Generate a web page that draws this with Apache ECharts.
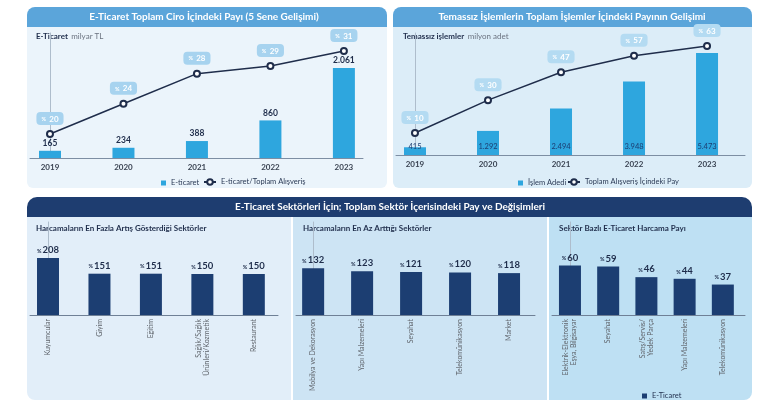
<!DOCTYPE html>
<html><head><meta charset="utf-8">
<script src="https://cdn.jsdelivr.net/npm/echarts@6/dist/echarts.min.js"></script>
<style>html,body{margin:0;padding:0;background:#fff}#c{width:770px;height:413px}</style>
</head><body><div id="c"></div>
<script>
// ---- data ----
const years = ['2019','2020','2021','2022','2023'];
const eticaretCiro = [165, 234, 388, 860, 2061];          // milyar TL
const eticaretPay = [20, 24, 28, 29, 31];                 // %
const temassizAdet = [415, 1292, 2494, 3948, 5473];       // milyon adet
const temassizPay = [10, 30, 47, 57, 63];                 // %
const enFazlaSektor = ['Kuyumcular', 'Giyim', 'Eğitim', 'Sağlık/Sağlık\nÜrünleri/Kozmetik', 'Restaurant'];
const enFazlaArtis = [208, 151, 151, 150, 150];
const enAzSektor = ['Mobilya ve Dekorasyon', 'Yapı Malzemeleri', 'Seyahat', 'Telekomünikasyon', 'Market'];
const enAzArtis = [132, 123, 121, 120, 118];
const payiSektor = ['Elektrik-Elektronik\nEşya, Bilgisayar', 'Seyahat', 'Satış/Servis/\nYedek Parça', 'Yapı Malzemeleri', 'Telekomünikasyon'];
const payi = [60, 59, 46, 44, 37];

const FONT = 'Lato, "Open Sans", sans-serif';
const NAVY = '#1c3e72';
const DARK = '#1f2d4b';
const BLUE = '#2ea6de';
const fmtTR = n => String(n).replace(/\B(?=(\d{3})+(?!\d))/g, '.');
const pairs = arr => arr.map((v, i) => [i, v]);
const idx = [0, 1, 2, 3, 4];

function xAxisFor(grid, min, max, labels, bottom) {
  return {
    gridIndex: grid, type: 'value', min: min, max: max,
    axisLine: { show: true, onZero: false, lineStyle: { color: bottom ? '#6f8096' : '#7d8ea3', width: 1 } },
    axisTick: { show: false }, splitLine: { show: false },
    axisLabel: bottom ? {
      customValues: idx, formatter: v => labels[v], rotate: 90, margin: 4,
      fontSize: 7, lineHeight: 8, color: '#5f646b', fontFamily: FONT
    } : {
      customValues: idx, formatter: v => labels[v], margin: 5,
      fontSize: 8, fontWeight: 'bold', color: '#3a4352', fontFamily: FONT
    }
  };
}
function yAxisFor(grid, max, show, min) {
  return {
    gridIndex: grid, type: 'value', min: min || 0, max: max, show: show,
    axisLine: { show: true, lineStyle: { color: '#aebdcc', width: 1 } },
    axisTick: { show: false }, axisLabel: { show: false }, splitLine: { show: false }
  };
}
function pctLabel(bg) {
  return {
    show: true, position: 'top', distance: 5,
    formatter: p => '{a|%} {b|' + p.value[1] + '}',
    backgroundColor: bg, borderRadius: 4, padding: [1, 5, 0, 5],
    rich: {
      a: { fontSize: 5.5, color: '#fff', fontWeight: 'bold', fontFamily: FONT },
      b: { fontSize: 8, color: '#fff', fontWeight: 'bold', fontFamily: FONT }
    }
  };
}
function sectorLabel() {
  return {
    show: true, position: 'top', distance: 3,
    formatter: p => '{a|%}{b|' + p.value[1] + '}',
    rich: {
      a: { fontSize: 5.5, color: DARK, fontWeight: 'bold', fontFamily: FONT, padding: [2, 1, 0, 0] },
      b: { fontSize: 9.5, color: DARK, fontWeight: 'bold', fontFamily: FONT }
    }
  };
}
const lineStyleSeries = {
  type: 'line', symbol: 'emptyCircle', symbolSize: 6,
  lineStyle: { color: DARK, width: 1.5 },
  itemStyle: { color: DARK, borderWidth: 1.5 }, z: 5
};

const graphics = [
  // top-left panel
  { type: 'rect', shape: { x: 27, y: 7, width: 360, height: 20, r: [8, 8, 0, 0] }, style: { fill: '#5ba5da' }, z: -10 },
  { type: 'rect', shape: { x: 27, y: 27, width: 360, height: 161, r: [0, 0, 6, 6] }, style: { fill: '#ebf4fb' }, z: -10 },
  // top-right panel
  { type: 'rect', shape: { x: 393, y: 7, width: 359, height: 20, r: [8, 8, 0, 0] }, style: { fill: '#5ba5da' }, z: -10 },
  { type: 'rect', shape: { x: 393, y: 27, width: 359, height: 161, r: [0, 0, 6, 6] }, style: { fill: '#dcedf8' }, z: -10 },
  // bottom header + panels
  { type: 'rect', shape: { x: 27, y: 197, width: 725, height: 20, r: [10, 10, 0, 0] }, style: { fill: '#1e3d70' }, z: -10 },
  { type: 'rect', shape: { x: 27, y: 217, width: 264, height: 183, r: [0, 0, 0, 8] }, style: { fill: '#e2eef9' }, z: -10 },
  { type: 'rect', shape: { x: 293, y: 217, width: 254, height: 183 }, style: { fill: '#cde4f4' }, z: -10 },
  { type: 'rect', shape: { x: 549, y: 217, width: 203, height: 183, r: [0, 0, 8, 0] }, style: { fill: '#bee0f3' }, z: -10 },
  // headers
  { type: 'text', x: 204, y: 17, style: { text: 'E-Ticaret Toplam Ciro İçindeki Payı (5 Sene Gelişimi)', fill: '#fff', font: 'bold 10px ' + FONT, align: 'center', verticalAlign: 'middle' } },
  { type: 'text', x: 572, y: 17, style: { text: 'Temassız İşlemlerin Toplam İşlemler İçindeki Payının Gelişimi', fill: '#fff', font: 'bold 10px ' + FONT, align: 'center', verticalAlign: 'middle' } },
  { type: 'text', x: 390, y: 207, style: { text: 'E-Ticaret Sektörleri İçin; Toplam Sektör İçerisindeki Pay ve Değişimleri', fill: '#fff', font: 'bold 10px ' + FONT, align: 'center', verticalAlign: 'middle' } },
  // sub titles
  { type: 'text', x: 36, y: 36, style: { text: '{b|E-Ticaret} {n|milyar TL}', align: 'left', verticalAlign: 'middle',
      rich: { b: { fontSize: 8, fontWeight: 'bold', fill: DARK, fontFamily: FONT }, n: { fontSize: 8, fill: '#6b7380', fontFamily: FONT } } } },
  { type: 'text', x: 403, y: 36, style: { text: '{b|Temassız işlemler} {n|milyon adet}', align: 'left', verticalAlign: 'middle',
      rich: { b: { fontSize: 8, fontWeight: 'bold', fill: DARK, fontFamily: FONT }, n: { fontSize: 8, fill: '#6b7380', fontFamily: FONT } } } },
  { type: 'text', x: 36, y: 228, style: { text: 'Harcamaların En Fazla Artış Gösterdiği Sektörler', fill: DARK, font: 'bold 8px ' + FONT, align: 'left', verticalAlign: 'middle' } },
  { type: 'text', x: 303, y: 228, style: { text: 'Harcamaların En Az Arttığı Sektörler', fill: DARK, font: 'bold 8px ' + FONT, align: 'left', verticalAlign: 'middle' } },
  { type: 'text', x: 559, y: 228, style: { text: 'Sektör Bazlı E-Ticaret Harcama Payı', fill: DARK, font: 'bold 8px ' + FONT, align: 'left', verticalAlign: 'middle' } }
];

const legendText = { fontSize: 7.5, color: '#2b3a55', fontFamily: FONT };
const option = {
  animation: false,
  graphic: graphics,
  legend: [
    { data: ['E-ticaret'], left: 156, top: 174, itemWidth: 5, itemHeight: 5, icon: 'rect', textStyle: legendText },
    { data: ['E-ticaret/Toplam Alışveriş'], left: 198, top: 173, itemWidth: 12, itemHeight: 7, textStyle: legendText },
    { data: ['İşlem Adedi'], left: 513, top: 174, itemWidth: 5, itemHeight: 5, icon: 'rect', textStyle: legendText },
    { data: ['Toplam Alışveriş İçindeki Pay'], left: 562, top: 173, itemWidth: 12, itemHeight: 7, textStyle: legendText },
    { data: ['E-Ticaret'], left: 637, top: 387, itemWidth: 5, itemHeight: 5, icon: 'rect', textStyle: Object.assign({}, legendText, { color: DARK }) }
  ],
  grid: [
    { left: 30, top: 33, width: 333, height: 125 },
    { left: 396, top: 33, width: 349, height: 122 },
    { left: 30, top: 222, width: 248, height: 93 },
    { left: 296, top: 222, width: 239, height: 93 },
    { left: 552, top: 222, width: 193, height: 93 }
  ],
  xAxis: [
    xAxisFor(0, -0.272, 4.26, years, false),
    xAxisFor(1, -0.26, 4.52, years, false),
    xAxisFor(2, -0.35, 4.47, enFazlaSektor, true),
    xAxisFor(3, -0.35, 4.53, enAzSektor, true),
    xAxisFor(4, -0.47, 4.58, payiSektor, true)
  ],
  yAxis: [
    yAxisFor(0, 2860, true),
    yAxisFor(0, 33.386, false, 16.819),
    yAxisFor(1, 6546, true),
    yAxisFor(1, 70.92, false, -3.40),
    yAxisFor(2, 340, true),
    yAxisFor(3, 262, true),
    yAxisFor(4, 113, true)
  ],
  series: [
    { name: 'E-ticaret', type: 'bar', xAxisIndex: 0, yAxisIndex: 0, barWidth: 22, data: pairs(eticaretCiro),
      itemStyle: { color: BLUE },
      label: { show: true, position: 'top', distance: 3, formatter: p => fmtTR(p.value[1]), fontSize: 8.5, fontWeight: 'bold', color: DARK, fontFamily: FONT } },
    Object.assign({ name: 'E-ticaret/Toplam Alışveriş', xAxisIndex: 0, yAxisIndex: 1, data: pairs(eticaretPay), label: pctLabel('#a7d3ef') }, lineStyleSeries),
    { name: 'İşlem Adedi', type: 'bar', xAxisIndex: 1, yAxisIndex: 2, barWidth: 22, data: pairs(temassizAdet),
      itemStyle: { color: BLUE },
      label: { show: true, position: 'insideBottom', distance: 4, formatter: p => fmtTR(p.value[1]), fontSize: 7.5, color: NAVY, fontFamily: FONT } },
    Object.assign({ name: 'Toplam Alışveriş İçindeki Pay', xAxisIndex: 1, yAxisIndex: 3, data: pairs(temassizPay), label: pctLabel('#b4dbf2') }, lineStyleSeries),
    { name: 'En Fazla Artış', type: 'bar', xAxisIndex: 2, yAxisIndex: 4, barWidth: 22, data: pairs(enFazlaArtis),
      itemStyle: { color: NAVY }, label: sectorLabel() },
    { name: 'En Az Artış', type: 'bar', xAxisIndex: 3, yAxisIndex: 5, barWidth: 22, data: pairs(enAzArtis),
      itemStyle: { color: NAVY }, label: sectorLabel() },
    { name: 'E-Ticaret', type: 'bar', xAxisIndex: 4, yAxisIndex: 6, barWidth: 22, data: pairs(payi),
      itemStyle: { color: NAVY }, label: sectorLabel() }
  ]
};
const chart = echarts.init(document.getElementById('c'), null, { renderer: 'canvas' });
chart.setOption(option);
</script></body></html>
